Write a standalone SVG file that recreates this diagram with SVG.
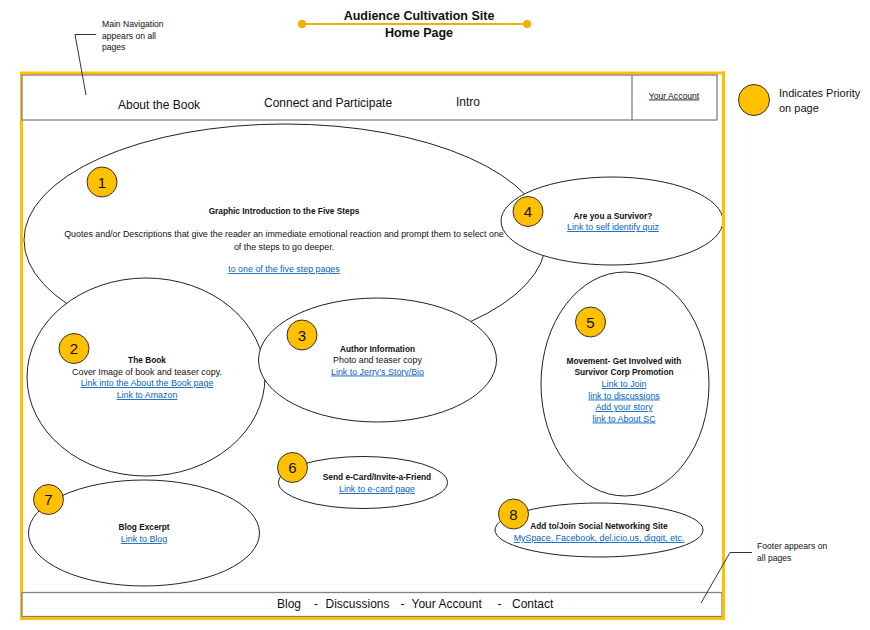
<svg xmlns="http://www.w3.org/2000/svg" width="870" height="630" viewBox="0 0 870 630">
<style>
text{font-family:"Liberation Sans",Arial,sans-serif;fill:#111}
.bub{fill:#fff;stroke:#222;stroke-width:1}
.badge{fill:#FFC000;stroke:#333;stroke-width:1}
.num{font-size:15px;text-anchor:middle;fill:#111}
.t{font-size:8.9px;text-anchor:middle}
.b{font-weight:bold;font-size:8.3px}
.lk{fill:#0563C1;text-decoration:underline}
.nav{font-size:12px}
.note{font-size:8.6px}
.lead{fill:none;stroke:#333;stroke-width:1}
</style>
<rect x="0" y="0" width="870" height="630" fill="#fff"/>

<g id="title">
<line x1="302" y1="24" x2="527" y2="24" stroke="#F0B000" stroke-width="2.2"/>
<circle cx="302" cy="24" r="4" fill="#F0B000"/>
<circle cx="527" cy="24" r="4" fill="#F0B000"/>
<text x="419" y="20" font-size="12.5" font-weight="bold" text-anchor="middle">Audience Cultivation Site</text>
<text x="419" y="37" font-size="12.5" font-weight="bold" text-anchor="middle">Home Page</text>
</g>

<g id="page-frame">
<rect x="21.5" y="73" width="702" height="545.5" fill="none" stroke="#FFC000" stroke-width="3"/>
</g>

<g id="main-nav">
<rect x="22" y="75" width="695" height="45" fill="#fff" stroke="#808080" stroke-width="1.3"/>
<line x1="632" y1="75" x2="632" y2="120" stroke="#808080" stroke-width="1.3"/>
<text class="nav" x="118" y="109">About the Book</text>
<text class="nav" x="264" y="107">Connect and Participate</text>
<text class="nav" x="456" y="106">Intro</text>
<text x="674" y="98.5" font-size="8.6" text-anchor="middle" text-decoration="underline" fill="#000">Your Account</text>
</g>

<g id="legend">
<circle class="badge" cx="754" cy="100" r="15.5"/>
<text x="779" y="97" font-size="11">Indicates Priority</text>
<text x="779" y="112" font-size="11">on page</text>
</g>

<g id="node-1">
<ellipse class="bub" cx="285" cy="240" rx="261" ry="116"/>
<circle class="badge" cx="102" cy="182" r="15"/>
<text class="num" x="102" y="187.5">1</text>
<text class="t b" x="284" y="214">Graphic Introduction to the Five Steps</text>
<text class="t" x="284" y="237">Quotes and/or Descriptions that give the reader an immediate emotional reaction and prompt them to select one</text>
<text class="t" x="284" y="249.5">of the steps to go deeper.</text>
<text class="t lk" x="284" y="272">to one of the five step pages</text>
</g>

<g id="node-4">
<ellipse class="bub" cx="612" cy="221" rx="111" ry="44"/>
<circle class="badge" cx="528" cy="211.5" r="15"/>
<text class="num" x="528" y="217">4</text>
<text class="t b" x="613" y="218.5">Are you a Survivor?</text>
<text class="t lk" x="613" y="230">Link to self identify quiz</text>
</g>

<g id="node-2">
<ellipse class="bub" cx="146" cy="377" rx="119" ry="99"/>
<circle class="badge" cx="74" cy="348.5" r="15"/>
<text class="num" x="74" y="354">2</text>
<text class="t b" x="147" y="363">The Book</text>
<text class="t" x="147" y="374.5">Cover Image of book and teaser copy.</text>
<text class="t lk" x="147" y="386">Link into the About the Book page</text>
<text class="t lk" x="147" y="398">Link to Amazon</text>
</g>

<g id="node-3">
<ellipse class="bub" cx="377.5" cy="360" rx="119" ry="62"/>
<circle class="badge" cx="302" cy="335" r="15"/>
<text class="num" x="302" y="340.5">3</text>
<text class="t b" x="377.5" y="352">Author Information</text>
<text class="t" x="377.5" y="363">Photo and teaser copy</text>
<text class="t lk" x="377.5" y="374.5">Link to Jerry’s Story/Bio</text>
</g>

<g id="node-5">
<ellipse class="bub" cx="625" cy="384" rx="84" ry="112"/>
<circle class="badge" cx="590.5" cy="322" r="15"/>
<text class="num" x="590.5" y="327.5">5</text>
<text class="t b" x="624" y="364">Movement- Get Involved with</text>
<text class="t b" x="624" y="375">Survivor Corp Promotion</text>
<text class="t lk" x="624" y="387">Link to Join</text>
<text class="t lk" x="624" y="398.5">link to discussions</text>
<text class="t lk" x="624" y="410">Add your story</text>
<text class="t lk" x="624" y="421.5">link to About SC</text>
</g>

<g id="node-6">
<ellipse class="bub" cx="363" cy="482.5" rx="84.5" ry="26"/>
<circle class="badge" cx="292.5" cy="467.5" r="15"/>
<text class="num" x="292.5" y="473">6</text>
<text class="t b" x="377" y="480">Send e-Card/Invite-a-Friend</text>
<text class="t lk" x="377" y="492">Link to e-card page</text>
</g>

<g id="node-7">
<ellipse class="bub" cx="144" cy="533" rx="115.5" ry="53"/>
<circle class="badge" cx="48.5" cy="499.5" r="15"/>
<text class="num" x="48.5" y="505">7</text>
<text class="t b" x="144" y="530">Blog Excerpt</text>
<text class="t lk" x="144" y="542">Link to Blog</text>
</g>

<g id="node-8">
<ellipse class="bub" cx="599" cy="530" rx="104" ry="27"/>
<circle class="badge" cx="513.5" cy="514" r="15"/>
<text class="num" x="513.5" y="519.5">8</text>
<text class="t b" x="599" y="529">Add to/Join Social Networking Site</text>
<text class="t lk" x="599" y="541">MySpace, Facebook, del.icio.us, diggit, etc.</text>
</g>

<g id="footer">
<rect x="22" y="592.5" width="700" height="24" fill="#fff" stroke="#808080" stroke-width="1.3"/>
<text class="nav" x="277" y="608">Blog</text>
<text class="nav" x="314" y="608">-</text>
<text class="nav" x="325.5" y="608">Discussions</text>
<text class="nav" x="400.5" y="608">-</text>
<text class="nav" x="411.5" y="608">Your Account</text>
<text class="nav" x="497.5" y="608">-</text>
<text class="nav" x="512" y="608">Contact</text>
</g>

<g id="frame-right-edge">
<line x1="723.5" y1="71.5" x2="723.5" y2="620" stroke="#FFC000" stroke-width="3"/>
<line x1="20" y1="618.5" x2="725" y2="618.5" stroke="#FFC000" stroke-width="3"/>
</g>

<g id="annotations">
<text class="note" x="102" y="27">Main Navigation</text>
<text class="note" x="102" y="38.5">appears on all</text>
<text class="note" x="102" y="50">pages</text>
<text class="note" x="757" y="549">Footer appears on</text>
<text class="note" x="757" y="561">all pages</text>
</g>

<g id="connectors">
<polyline class="lead" points="96,34.5 75,34.5 86,95"/>
<polyline class="lead" points="752,552.5 730,552.5 701,603"/>
</g>
</svg>
